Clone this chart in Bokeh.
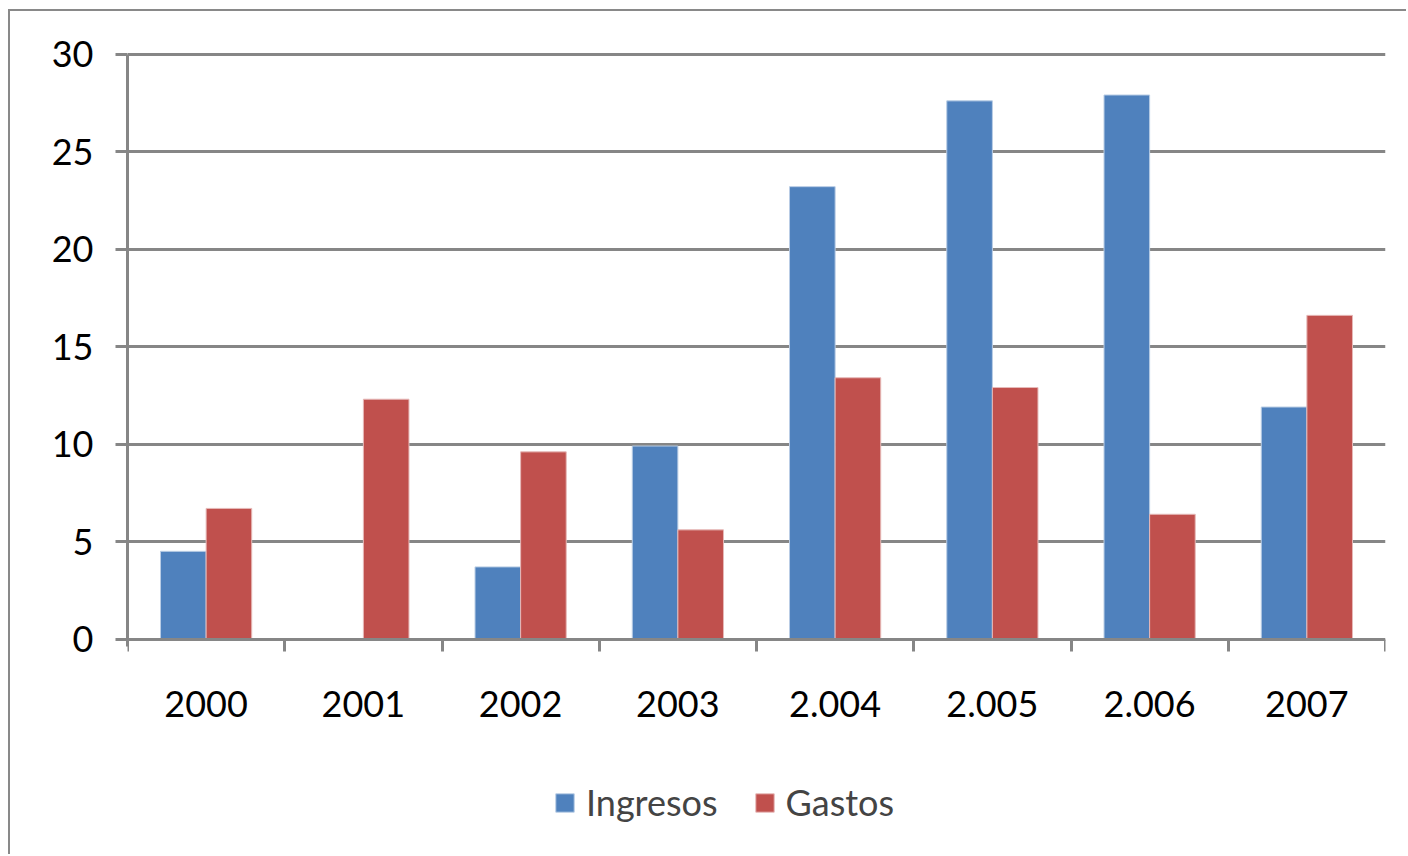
import numpy as np
from bokeh.plotting import figure
from bokeh.models import (ColumnDataSource, FixedTicker, Range1d, Legend, LegendItem)
from bokeh.transform import dodge
from bokeh.embed import file_html
from bokeh.resources import INLINE

years = ["2000", "2001", "2002", "2003", "2.004", "2.005", "2.006", "2007"]
ingresos = [4.5, 0.0, 3.7, 9.9, 23.2, 27.6, 27.9, 11.9]
gastos = [6.7, 12.3, 9.6, 5.6, 13.4, 12.9, 6.4, 16.6]

BLUE = "#4F81BD"
RED = "#C0504D"
GREY = "#868686"
FONT = "Lato"

pos = np.arange(len(years)) + 0.5
src = ColumnDataSource(dict(x=pos, ingresos=ingresos, gastos=gastos))

# frame: 804 px tall, 19.5 px per unit; lower part holds axis labels and legend
p = figure(width=1398, height=845, output_backend="svg", toolbar_location=None,
           x_range=Range1d(0, len(years)), y_range=Range1d(-11.15, 30.08))
p.min_border_left = 117
p.min_border_right = 23
p.min_border_top = 41
p.min_border_bottom = 0
p.outline_line_color = None
p.background_fill_color = "white"
p.border_fill_color = "white"
p.styles = {"border-left": "2px solid #898989", "border-top": "2px solid #898989",
            "margin-left": "8px", "margin-top": "9px"}

bw = 0.29
r1 = p.vbar(x=dodge("x", -bw / 2, range=p.x_range), top="ingresos", width=bw, source=src,
            fill_color=BLUE, line_color="#B9CDE5", line_width=1)
r2 = p.vbar(x=dodge("x", bw / 2, range=p.x_range), top="gastos", width=bw, source=src,
            fill_color=RED, line_color="#E6B9B8", line_width=1)

# y axis
p.yaxis.ticker = FixedTicker(ticks=[0, 5, 10, 15, 20, 25, 30])
p.yaxis.bounds = (-0.4, 30)
p.yaxis.axis_line_color = GREY
p.yaxis.axis_line_width = 3
p.yaxis.major_tick_line_color = GREY
p.yaxis.major_tick_line_width = 3
p.yaxis.major_tick_out = 12
p.yaxis.major_tick_in = 0
p.yaxis.minor_tick_line_color = None
p.yaxis.major_label_text_font = FONT
p.yaxis.major_label_text_font_size = "36px"
p.yaxis.major_label_text_color = "black"
p.yaxis.major_label_standoff = 22

# x axis at y=0: labels centred on categories, ticks at boundaries
p.xaxis.fixed_location = 0
p.xaxis.ticker = FixedTicker(ticks=list(pos), minor_ticks=list(range(len(years) + 1)))
p.xaxis.major_label_overrides = {float(v): y for v, y in zip(pos, years)}
p.xaxis.axis_line_color = GREY
p.xaxis.axis_line_width = 3
p.xaxis.major_tick_line_color = None
p.xaxis.major_tick_out = 0
p.xaxis.minor_tick_line_color = GREY
p.xaxis.minor_tick_line_width = 3
p.xaxis.minor_tick_out = 12
p.xaxis.minor_tick_in = 0
p.xaxis.major_label_text_font = FONT
p.xaxis.major_label_text_font_size = "36px"
p.xaxis.major_label_text_color = "black"
p.xaxis.major_label_standoff = 40

p.xgrid.grid_line_color = None
p.ygrid.ticker = FixedTicker(ticks=[5, 10, 15, 20, 25, 30])
p.ygrid.grid_line_color = GREY
p.ygrid.grid_line_width = 3

legend = Legend(items=[LegendItem(label="Ingresos", renderers=[r1]),
                       LegendItem(label="Gastos", renderers=[r2])],
                orientation="horizontal", location=(426, 32))
legend.label_text_font = FONT
legend.label_text_font_size = "36px"
legend.glyph_width = 23
legend.glyph_height = 23
legend.spacing = 35
legend.label_standoff = 10
legend.padding = 5
legend.margin = 0
legend.border_line_color = None
legend.background_fill_alpha = 0
p.add_layout(legend, "center")

open("out.html", "w").write(file_html(p, INLINE))
